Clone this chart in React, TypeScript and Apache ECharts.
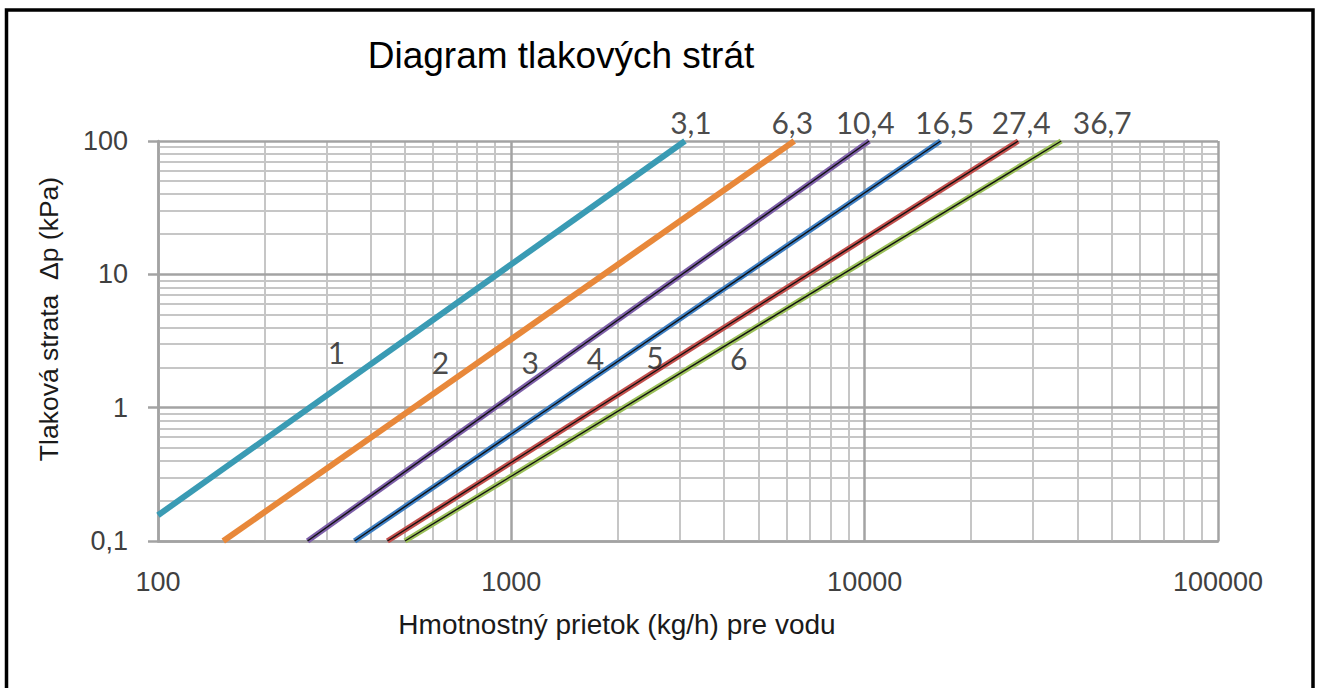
import React, { useEffect, useRef } from "react";
import * as echarts from "echarts";

// ---- data ----
const lineNames = ["1", "2", "3", "4", "5", "6"];
const kvLabels = ["3,1", "6,3", "10,4", "16,5", "27,4", "36,7"];
// [flow kg/h, pressure loss kPa]
const line1 = [[100, 0.156], [3100, 100]];
const line2 = [[153, 0.1], [6320, 100]];
const line3 = [[265, 0.1], [10300, 100]];
const line4 = [[360, 0.1], [16400, 100]];
const line5 = [[446, 0.1], [27200, 100]];
const line6 = [[500, 0.1], [36000, 100]];
const lines = [line1, line2, line3, line4, line5, line6];
const lineColors = ["#3a9bb4", "#e8883a", "#7d5fa8", "#3e7fc3", "#c24f4c", "#9cc05a"];
const hasBlackCore = [false, false, true, true, true, true];
// positions of the number labels 1..6 (data coords)
const numLabelX = [320, 630, 1130, 1730, 2550, 4400];
const numLabelY = [2.6, 2.2, 2.2, 2.35, 2.4, 2.35];
// kv label horizontal offsets (px)
const kvOffsetX = [6, -2, -4, 4, 3, 41];

const xMajor = [100, 1000, 10000, 100000];
const yMajor = [0.1, 1, 10, 100];
const minorMult = [2, 3, 4, 5, 6, 7, 8, 9];
const xDecades = [100, 1000, 10000];
const yDecades = [0.1, 1, 10];

const title = "Diagram tlakových strát";
const xName = "Hmotnostný prietok (kg/h) pre vodu";
const yName = "Tlaková strata  Δp (kPa)";

const AXIS_FONT = '"Liberation Sans", Arial, sans-serif';
const NUM_FONT = 'Lato, "Open Sans", sans-serif';

export default function App() {
  const ref = useRef<HTMLDivElement>(null);
  useEffect(() => {
    if (!ref.current) return;
    const chart = echarts.init(ref.current, undefined, { renderer: "svg" });

    const minorStyle = { color: "#c6c6c6", width: 2, type: "solid" };
    const majorStyle = { color: "#a3a3a3", width: 2.5, type: "solid" };
    const gridLines: any[] = [];
    xDecades.forEach((d) => minorMult.forEach((m) => gridLines.push({ xAxis: d * m, lineStyle: minorStyle })));
    yDecades.forEach((d) => minorMult.forEach((m) => gridLines.push({ yAxis: +(d * m).toPrecision(6), lineStyle: minorStyle })));
    xMajor.forEach((v) => gridLines.push({ xAxis: v, lineStyle: majorStyle }));
    yMajor.forEach((v) => gridLines.push({ yAxis: v, lineStyle: majorStyle }));

    const series: any[] = [
      {
        type: "line",
        name: "grid",
        data: [[100, 0.1]],
        showSymbol: false,
        symbol: "none",
        lineStyle: { width: 0, opacity: 0 },
        z: 1,
        silent: true,
        markLine: {
          z: 1,
          silent: true,
          symbol: ["none", "none"],
          label: { show: false },
          emphasis: { disabled: true },
          data: gridLines,
        },
      },
    ];

    lines.forEach((d, i) => {
      series.push({
        type: "line",
        name: lineNames[i],
        data: d,
        symbol: "none",
        showSymbol: false,
        lineStyle: { color: lineColors[i], width: hasBlackCore[i] ? 5.5 : 6 },
        z: 10,
        silent: true,
      });
      if (hasBlackCore[i]) {
        series.push({
          type: "line",
          name: lineNames[i] + "-core",
          data: d,
          symbol: "none",
          showSymbol: false,
          lineStyle: { color: "#111", width: 1.4 },
          z: 11,
          silent: true,
        });
      }
    });

    series.push({
      type: "scatter",
      name: "kv",
      data: lines.map((d, i) => ({
        value: d[d.length - 1],
        label: { offset: [kvOffsetX[i], 0] },
      })),
      symbolSize: 1,
      itemStyle: { color: "rgba(0,0,0,0)" },
      silent: true,
      z: 12,
      label: {
        show: true,
        position: "top",
        distance: 4,
        formatter: (p: any) => kvLabels[p.dataIndex],
        fontFamily: NUM_FONT,
        fontSize: 30,
        color: "#1a1a1a",
      },
    });

    series.push({
      type: "scatter",
      name: "nums",
      data: numLabelX.map((x, i) => [x, numLabelY[i]]),
      symbolSize: 1,
      itemStyle: { color: "rgba(0,0,0,0)" },
      silent: true,
      z: 12,
      label: {
        show: true,
        position: "inside",
        formatter: (p: any) => lineNames[p.dataIndex],
        fontFamily: NUM_FONT,
        fontSize: 30,
        color: "#1a1a1a",
      },
    });

    chart.setOption({
      animation: false,
      backgroundColor: "#ffffff",
      grid: { left: 158, right: 100, top: 141, bottom: 147, containLabel: false },
      xAxis: {
        type: "log",
        logBase: 10,
        min: 100,
        max: 100000,
        axisLine: { show: true, lineStyle: { color: "#a3a3a3", width: 2.5 } },
        axisTick: { show: false },
        splitLine: { show: false },
        minorSplitLine: { show: false },
        axisLabel: {
          fontFamily: AXIS_FONT,
          fontSize: 27,
          color: "#404040",
          margin: 27,
          formatter: (v: number) => String(v).replace(".", ","),
        },
      },
      yAxis: {
        type: "log",
        logBase: 10,
        min: 0.1,
        max: 100,
        axisLine: { show: true, lineStyle: { color: "#a3a3a3", width: 2.5 } },
        axisTick: { show: true, length: 10, lineStyle: { color: "#a3a3a3", width: 2.5 } },
        splitLine: { show: false },
        axisLabel: {
          fontFamily: AXIS_FONT,
          fontSize: 27,
          color: "#404040",
          margin: 30,
          formatter: (v: number) => String(+v.toPrecision(6)).replace(".", ","),
        },
      },
      graphic: [
        {
          type: "rect",
          shape: { x: 6.5, y: 10, width: 1306.5, height: 700 },
          style: { fill: "none", stroke: "#000", lineWidth: 3.5 },
          silent: true,
        },
        {
          type: "text",
          x: 561,
          y: 55,
          style: {
            text: title,
            font: `normal 37px ${AXIS_FONT}`,
            fill: "#000",
            textAlign: "center",
            textVerticalAlign: "middle",
          },
        },
        {
          type: "text",
          x: 617,
          y: 624,
          style: {
            text: xName,
            font: `normal 28px ${AXIS_FONT}`,
            fill: "#1a1a1a",
            textAlign: "center",
            textVerticalAlign: "middle",
          },
        },
        {
          type: "text",
          x: 49,
          y: 319,
          rotation: Math.PI / 2,
          style: {
            text: yName,
            font: `normal 26.5px ${AXIS_FONT}`,
            fill: "#1a1a1a",
            textAlign: "center",
            textVerticalAlign: "middle",
          },
        },
      ],
      series,
    });

    return () => chart.dispose();
  }, []);

  return (
    <div
      ref={ref}
      style={{ position: "fixed", left: 0, top: 0, width: 1318, height: 688, background: "#fff" }}
    />
  );
}
